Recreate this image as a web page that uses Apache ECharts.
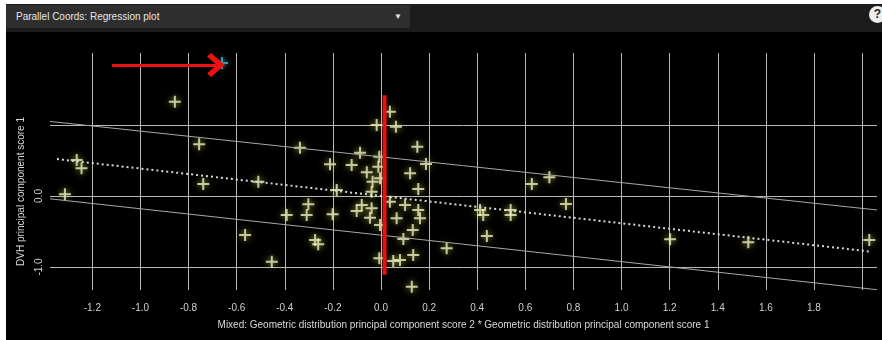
<!DOCTYPE html>
<html>
<head>
<meta charset="utf-8">
<script src="https://cdn.jsdelivr.net/npm/echarts@6/dist/echarts.min.js"></script>
<style>
  body { margin: 0; background: #fff; font-family: 'Liberation Sans', Arial, sans-serif; }
  #panel { position: absolute; left: 6px; top: 4px; width: 876px; height: 336px; background: #000; }
  #bar { position: absolute; left: 6px; top: 4px; width: 876px; height: 28px; background: #1c1c1c; }
  #drop { position: absolute; left: 0; top: 1px; width: 404px; height: 23px; background: #2e2e2e; color: #e6e6e6; font-size: 10px; line-height: 23px; }
  #drop span { position: absolute; left: 10px; }
  #drop i { position: absolute; right: 8px; top: 0; font-style: normal; font-size: 8px; }
  #help { position: absolute; left: 869px; top: 6px; width: 17px; height: 17px; border-radius: 50%; background: #eee; color: #222; font-size: 12px; font-weight: bold; line-height: 17px; text-align: center; }
  #chart { position: absolute; left: 0; top: 0; width: 882px; height: 340px; }
</style>
</head>
<body>
<div id="panel"></div>
<div id="bar">
  <div id="drop"><span>Parallel Coords: Regression plot</span><i>&#9660;</i></div>
</div>
<div id="help">?</div>
<div id="chart"></div>
<script>
// scatter points [x, y]
const points = [
  [-0.857, 1.328], [-0.756, 0.728], [-1.265, 0.507], [-1.245, 0.390], [-0.739, 0.169],
  [-0.510, 0.201], [-1.314, 0.024], [-0.392, -0.268], [-0.565, -0.549], [-0.454, -0.925],
  [0.037, 1.187], [-0.018, 1.000], [0.062, 0.976], [-0.337, 0.680], [-0.087, 0.610],
  [0.151, 0.694], [-0.212, 0.446], [-0.122, 0.437], [0.187, 0.451], [-0.059, 0.334],
  [-0.007, 0.554], [0.121, 0.320], [-0.011, 0.413], [-0.035, 0.201], [-0.004, 0.249],
  [0.155, 0.099], [-0.184, 0.085], [-0.302, -0.117], [-0.309, -0.268], [-0.201, -0.258],
  [-0.101, -0.211], [-0.080, -0.127], [-0.039, -0.173], [-0.046, -0.306], [0.037, -0.080],
  [0.065, -0.314], [0.100, -0.127], [0.155, -0.197], [0.162, -0.314], [-0.004, -0.408],
  [0.132, -0.479], [0.093, -0.606], [-0.274, -0.620], [-0.261, -0.680], [0.273, -0.737],
  [0.134, -0.831], [-0.007, -0.877], [0.079, -0.901], [0.051, -0.915], [0.128, -1.277],
  [-0.039, 0.061], [0.700, 0.263], [0.627, 0.169], [0.769, -0.113], [0.412, -0.197],
  [0.425, -0.268], [0.539, -0.197], [0.539, -0.268], [0.440, -0.563], [2.030, -0.620],
  [1.527, -0.652], [1.202, -0.610]
]
const selectedPoint = [[-0.661, 1.873]]

// regression fit and interval lines (end points)
const fitLine = [[-1.347, 0.52], [2.04, -0.785]]
const upperLine = [[-1.376, 1.05], [2.062, -0.197]]
const lowerLine = [[-1.376, -0.04], [2.062, -1.32]]
const redLine = [[0.015, 1.42], [0.015, -1.11]]
const arrowLine = [[-1.118, 1.845], [-0.686, 1.845]]

const xTicks = [-1.2, -1.0, -0.8, -0.6, -0.4, -0.2, 0.0, 0.2, 0.4, 0.6, 0.8, 1.0, 1.2, 1.4, 1.6, 1.8, 2.0]
const xLabels = [-1.2, -1.0, -0.8, -0.6, -0.4, -0.2, 0.0, 0.2, 0.4, 0.6, 0.8, 1.0, 1.2, 1.4, 1.6, 1.8]
const yTicks = [-1, 0, 1]
const yLabels = [-1, 0]

const plus = 'path://M5,0h2v5h5v2h-5v5h-2v-5h-5v-2h5z'

const chart = echarts.init(document.getElementById('chart'))

const option = {
  animation: false,
  backgroundColor: 'transparent',
  textStyle: { fontFamily: 'Liberation Sans' },
  grid: { left: 50, right: 5, top: 53, bottom: 50 },
  xAxis: {
    type: 'value',
    min: -1.376,
    max: 2.062,
    axisLine: { show: false },
    axisTick: { show: true, length: 8, customValues: xTicks, lineStyle: { color: '#bbb' } },
    axisLabel: {
      customValues: xLabels,
      color: '#d0d0d0',
      fontSize: 10,
      margin: 13,
      formatter: v => v.toFixed(1)
    },
    splitLine: { show: true, lineStyle: { color: '#b8b8b8', width: 1 } },
    name: 'Mixed: Geometric distribution principal component score 2 * Geometric distribution principal component score 1',
    nameLocation: 'middle',
    nameGap: 30,
    nameTextStyle: { color: '#d8d8d8', fontSize: 10 }
  },
  yAxis: {
    type: 'value',
    min: -1.324,
    max: 2.014,
    axisLine: { show: false },
    axisTick: { show: false, customValues: yTicks },
    axisLabel: {
      customValues: yLabels,
      rotate: 90,
      color: '#d0d0d0',
      fontSize: 10,
      margin: 6,
      formatter: v => v.toFixed(1)
    },
    splitLine: { show: true, lineStyle: { color: '#b8b8b8', width: 1 } },
    name: 'DVH principal component score 1',
    nameLocation: 'middle',
    nameGap: 8,
    nameRotate: 90,
    nameTextStyle: { color: '#d8d8d8', fontSize: 10, padding: [0, 40, 0, 0] }
  },
  series: [
    {
      type: 'line',
      data: upperLine,
      symbol: 'none',
      lineStyle: { color: '#a8a8a8', width: 1 }
    },
    {
      type: 'line',
      data: lowerLine,
      symbol: 'none',
      lineStyle: { color: '#a8a8a8', width: 1 }
    },
    {
      type: 'line',
      data: fitLine,
      symbol: 'none',
      lineStyle: { color: '#d8d8d8', width: 2, type: [2, 3] }
    },
    {
      type: 'scatter',
      data: points,
      symbol: plus,
      symbolSize: 12,
      itemStyle: { color: '#efefc4', shadowBlur: 6, shadowColor: 'rgba(200,210,80,0.9)' }
    },
    {
      type: 'scatter',
      data: selectedPoint,
      symbol: plus,
      symbolSize: 12,
      itemStyle: { color: '#3fb8c8', shadowBlur: 5, shadowColor: 'rgba(60,200,220,0.9)' },
      markLine: {
        silent: true,
        symbol: ['none', 'path://M0,10L10,0L20,10L17,13L10,6L3,13Z'],
        symbolSize: [24, 18],
        label: { show: false },
        lineStyle: { color: '#ee1111', width: 3, type: 'solid' },
        data: [[{ coord: arrowLine[0] }, { coord: arrowLine[1] }]]
      }
    },
    {
      type: 'line',
      data: redLine,
      symbol: 'none',
      z: 5,
      lineStyle: { color: '#e81010', width: 4 }
    }
  ]
}

chart.setOption(option)
</script>
</body>
</html>
